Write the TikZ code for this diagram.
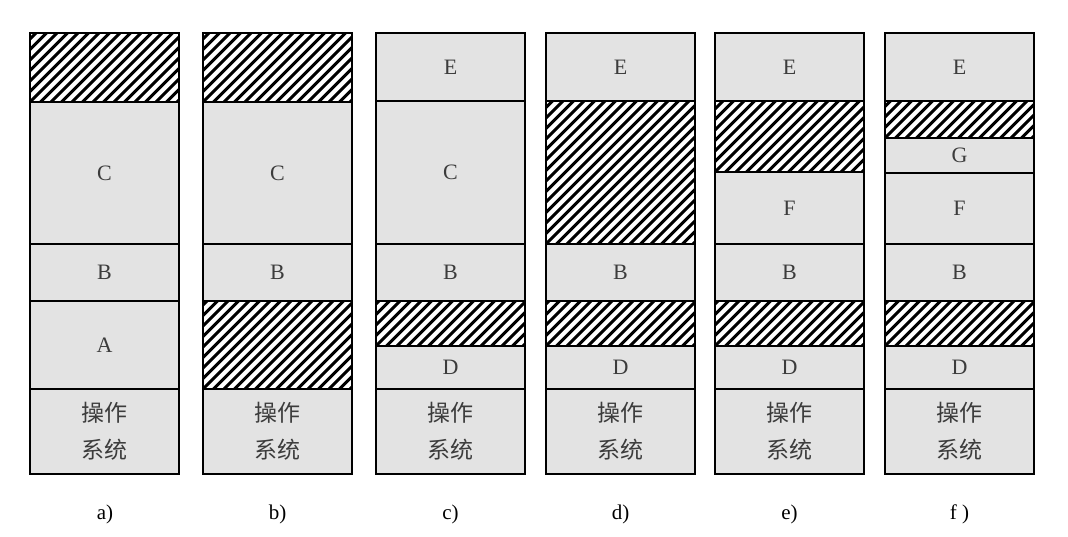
\documentclass[tikz,border=0pt]{standalone}
\usepackage{fontspec}
\setmainfont{Liberation Serif}
\newfontfamily\cjk{Noto Sans CJK SC}
\usetikzlibrary{calc}
\definecolor{cellfill}{RGB}{227,227,227}
\definecolor{txt}{RGB}{60,60,60}
\tikzset{
  cell/.style={draw=black, line width=2.6pt, fill=cellfill, inner sep=0pt, outer sep=0pt,
    minimum width=149pt, text=txt, font=\fontsize{22}{24}\selectfont},
  hatchbox/.style={draw=black, line width=2.6pt, fill=white, inner sep=0pt, outer sep=0pt,
    minimum width=149pt,
    path picture={
      \foreach \k in {-18,...,18}{
        \draw[line width=3pt, black]
          ($(path picture bounding box.south west)+(\k*10.5pt,0pt)$) -- ++(220pt,220pt);
      }
    }},
  oscell/.style={cell, align=center, font=\cjk\fontsize{23}{37}\selectfont},
  caption/.style={text=black, font=\fontsize{21}{24}\selectfont, inner sep=0pt}
}
% #1 name, #2 left x, #3 top y, #4 bottom y, #5 style, #6 text
\newcommand\mblk[6]{%
  \node[#5, minimum height={(#4-#3)*1pt}] (#1) at ({#2+74.5},{(#3+#4)/2}) {#6};}
\begin{document}
\begin{tikzpicture}[x=1pt,y=-1pt]
\useasboundingbox[fill=white] (0,0) rectangle (1068,536);
% column a
\mblk{ah1}{30}{33}{102}{hatchbox}{}
\mblk{ac}{30}{102}{244}{cell}{C}
\mblk{ab}{30}{244}{301}{cell}{B}
\mblk{aa}{30}{301}{389}{cell}{A}
\mblk{aos}{30}{389}{474}{oscell}{操作\\系统}
\node[caption] (la) at (105,514) {a)};
% column b
\mblk{bh1}{203}{33}{102}{hatchbox}{}
\mblk{bc}{203}{102}{244}{cell}{C}
\mblk{bb}{203}{244}{301}{cell}{B}
\mblk{bh2}{203}{301}{389}{hatchbox}{}
\mblk{bos}{203}{389}{474}{oscell}{操作\\系统}
\node[caption] (lb) at (277.5,514) {b)};
% column c
\mblk{ce}{376}{33}{101}{cell}{E}
\mblk{cc}{376}{101}{244}{cell}{C}
\mblk{cb}{376}{244}{301}{cell}{B}
\mblk{ch}{376}{301}{346}{hatchbox}{}
\mblk{cd}{376}{346}{389}{cell}{D}
\mblk{cos}{376}{389}{474}{oscell}{操作\\系统}
\node[caption] (lc) at (450.5,514) {c)};
% column d
\mblk{de}{546}{33}{101}{cell}{E}
\mblk{dh1}{546}{101}{244}{hatchbox}{}
\mblk{db}{546}{244}{301}{cell}{B}
\mblk{dh2}{546}{301}{346}{hatchbox}{}
\mblk{dd}{546}{346}{389}{cell}{D}
\mblk{dos}{546}{389}{474}{oscell}{操作\\系统}
\node[caption] (ld) at (620.5,514) {d)};
% column e
\mblk{ee}{715}{33}{101}{cell}{E}
\mblk{eh1}{715}{101}{172}{hatchbox}{}
\mblk{ef}{715}{172}{244}{cell}{F}
\mblk{eb}{715}{244}{301}{cell}{B}
\mblk{eh2}{715}{301}{346}{hatchbox}{}
\mblk{ed}{715}{346}{389}{cell}{D}
\mblk{eos}{715}{389}{474}{oscell}{操作\\系统}
\node[caption] (le) at (789.5,514) {e)};
% column f
\mblk{fe}{885}{33}{101}{cell}{E}
\mblk{fh1}{885}{101}{138}{hatchbox}{}
\mblk{fg}{885}{138}{173}{cell}{G}
\mblk{ff}{885}{173}{244}{cell}{F}
\mblk{fb}{885}{244}{301}{cell}{B}
\mblk{fh2}{885}{301}{346}{hatchbox}{}
\mblk{fd}{885}{346}{389}{cell}{D}
\mblk{fos}{885}{389}{474}{oscell}{操作\\系统}
\node[caption] (lf) at (959.5,514) {f )};
\end{tikzpicture}
\end{document}
